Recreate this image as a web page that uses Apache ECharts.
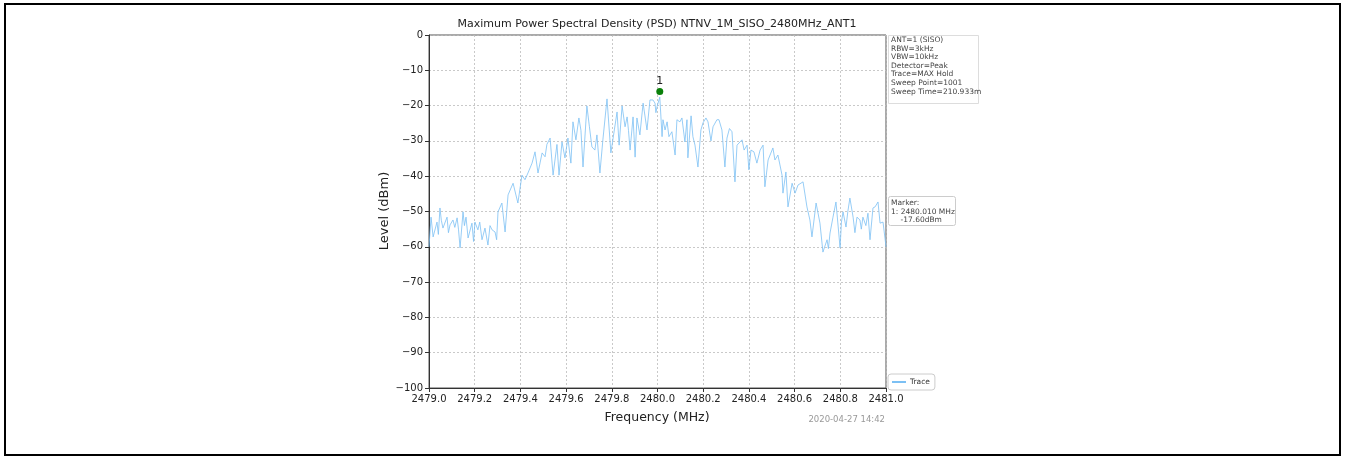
<!DOCTYPE html>
<html><head><meta charset="utf-8">
<script src="https://cdn.jsdelivr.net/npm/echarts@6/dist/echarts.min.js"></script>
<style>html,body{margin:0;padding:0;background:#fff}#c{width:1345px;height:458px}</style>
</head><body><div id="c"></div>
<script>
// Trace samples (MHz, dBm)
const freqMHz = [
2479.000,2479.009,2479.018,2479.035,2479.041,2479.048,2479.054,2479.061,2479.079,2479.085,
2479.092,2479.105,2479.113,2479.123,2479.129,2479.136,2479.149,2479.155,2479.162,2479.171,
2479.188,2479.195,2479.201,2479.214,2479.222,2479.232,2479.245,2479.258,2479.267,2479.276,
2479.289,2479.296,2479.302,2479.319,2479.333,2479.346,2479.368,2479.389,2479.407,2479.420,
2479.433,2479.451,2479.464,2479.477,2479.495,2479.508,2479.516,2479.530,2479.543,2479.560,
2479.569,2479.582,2479.595,2479.608,2479.621,2479.630,2479.643,2479.656,2479.665,2479.674,
2479.691,2479.702,2479.713,2479.726,2479.735,2479.748,2479.761,2479.779,2479.796,2479.823,
2479.832,2479.845,2479.858,2479.867,2479.873,2479.880,2479.893,2479.902,2479.910,2479.923,
2479.937,2479.954,2479.967,2479.980,2479.989,2479.993,2479.998,2480.010,2480.020,2480.024,
2480.033,2480.042,2480.050,2480.063,2480.077,2480.085,2480.098,2480.107,2480.120,2480.129,
2480.133,2480.147,2480.155,2480.164,2480.177,2480.190,2480.199,2480.212,2480.221,2480.234,
2480.243,2480.260,2480.269,2480.282,2480.295,2480.304,2480.315,2480.326,2480.339,2480.348,
2480.370,2480.379,2480.392,2480.400,2480.409,2480.422,2480.435,2480.449,2480.462,2480.470,
2480.484,2480.505,2480.514,2480.527,2480.545,2480.549,2480.562,2480.571,2480.589,2480.602,
2480.615,2480.637,2480.654,2480.667,2480.676,2480.694,2480.711,2480.724,2480.742,2480.748,
2480.755,2480.768,2480.781,2480.799,2480.805,2480.812,2480.825,2480.833,2480.842,2480.856,
2480.864,2480.873,2480.886,2480.892,2480.899,2480.912,2480.921,2480.930,2480.943,2480.952,
2480.965,2480.974,2480.987,2481.000
];
const levelDbm = [
-60.0,-51.6,-57.2,-53.0,-56.5,-49.0,-52.5,-54.7,-51.6,-56.0,
-53.8,-52.4,-54.5,-51.8,-55.0,-60.3,-50.1,-54.0,-51.6,-57.5,
-53.3,-58.5,-53.0,-55.2,-53.0,-58.0,-54.7,-59.5,-54.0,-55.2,
-55.8,-58.0,-50.1,-47.6,-55.8,-45.3,-42.0,-47.6,-39.7,-41.0,
-39.1,-36.3,-33.1,-39.1,-33.4,-34.5,-31.0,-29.2,-39.7,-31.0,
-39.7,-30.3,-34.8,-29.2,-36.3,-24.6,-29.7,-23.5,-27.0,-37.4,
-20.1,-26.0,-31.7,-32.6,-28.3,-39.1,-29.7,-18.1,-33.4,-21.8,
-31.2,-20.1,-26.0,-23.2,-27.0,-32.6,-23.2,-34.6,-23.5,-28.3,
-19.3,-26.9,-18.4,-18.4,-19.3,-22.0,-20.3,-17.6,-28.8,-24.0,
-26.9,-24.6,-28.8,-27.4,-34.0,-24.0,-24.6,-23.5,-30.3,-24.0,
-34.8,-22.9,-28.8,-31.2,-37.4,-26.9,-24.9,-23.5,-24.6,-30.0,
-26.0,-24.0,-24.0,-26.9,-37.4,-29.2,-26.5,-27.4,-41.6,-31.2,
-29.7,-32.6,-31.2,-38.2,-32.6,-33.1,-36.3,-32.6,-31.2,-43.0,
-35.4,-32.0,-35.4,-34.0,-39.7,-44.8,-38.8,-48.7,-42.0,-44.8,
-42.5,-41.6,-48.7,-52.4,-57.2,-47.6,-53.3,-61.5,-58.0,-60.5,
-56.1,-51.6,-47.3,-60.3,-53.0,-50.1,-54.4,-50.0,-46.2,-51.6,
-56.0,-51.6,-52.4,-55.0,-51.6,-54.0,-50.5,-58.0,-49.0,-48.7,
-47.3,-53.3,-53.0,-60.0
];
const markerFreq = [2480.010];
const markerLevel = [-16.0];
const markerLabels = ['1'];
const infoLines = ['ANT=1 (SISO)','RBW=3kHz','VBW=10kHz','Detector=Peak','Trace=MAX Hold','Sweep Point=1001','Sweep Time=210.933m'];
const markerLines = ['Marker:','1: 2480.010 MHz','    -17.60dBm'];
const titleText = 'Maximum Power Spectral Density (PSD) NTNV_1M_SISO_2480MHz_ANT1';
const xName = 'Frequency (MHz)';
const yName = 'Level (dBm)';
const stamp = '2020-04-27 14:42';

const FONT = 'DejaVu Sans';
const traceData = freqMHz.map((f,i)=>[f, levelDbm[i]]);
const markerData = markerFreq.map((f,i)=>[f, markerLevel[i]]);
const minus = v => String(v).replace('-', '\u2212');

const chart = echarts.init(document.getElementById('c'), null, {renderer:'canvas'});
const info = infoLines.map((t,i)=>({type:'text', x: 891, y: 36 + i*8.6,
  style:{text:t, font:'7.5px "'+FONT+'"', fill:'#444'}, z:20}));
const mk = markerLines.map((t,i)=>({type:'text', x: 891, y: 199 + i*8.6,
  style:{text:t, font:'7.5px "'+FONT+'"', fill:'#444'}, z:20}));

chart.setOption({
  animation:false,
  backgroundColor:'#fff',
  grid:{left:429, top:35, width:457, height:353, show:true, borderColor:'#555', borderWidth:1, backgroundColor:'transparent'},
  xAxis:{type:'value', min:2479, max:2481, interval:0.2,
    axisLine:{show:true, onZero:false, lineStyle:{color:'#333', width:1}},
    axisTick:{show:true, length:4, lineStyle:{color:'#333'}},
    axisLabel:{color:'#222', fontSize:10, fontFamily:FONT, margin:6, formatter:v=>v.toFixed(1)},
    splitLine:{show:true, lineStyle:{color:'#bbb', type:[2,2], width:0.8}}},
  yAxis:{type:'value', min:-100, max:0, interval:10,
    axisLine:{show:true, onZero:false, lineStyle:{color:'#333', width:1}},
    axisTick:{show:true, length:4, lineStyle:{color:'#333'}},
    axisLabel:{color:'#222', fontSize:10, fontFamily:FONT, margin:6, formatter:v=>minus(v)},
    splitLine:{show:true, lineStyle:{color:'#bbb', type:[2,2], width:0.8}}},
  legend:{show:true, left:888, top:374, orient:'vertical', data:['Trace'],
    borderColor:'#ccc', borderWidth:1, borderRadius:3, padding:[4,5,4,4], backgroundColor:'#fff',
    itemWidth:14, itemHeight:2, itemGap:2, icon:'rect',
    textStyle:{fontSize:7.5, fontFamily:FONT, color:'#333', padding:[0,0,0,-1]}},
  series:[
    {name:'Trace', type:'line', data:traceData, showSymbol:false, symbol:'none',
     lineStyle:{color:'#7cc0f4', width:0.8}, itemStyle:{color:'#7cc0f4'}, z:3},
    {name:'Marker', type:'scatter', data:markerData, symbol:'circle', symbolSize:7,
     itemStyle:{color:'#0a800a', opacity:1}, z:5,
     label:{show:true, position:'top', distance:1, formatter:p=>markerLabels[p.dataIndex], color:'#222', fontSize:11, fontFamily:FONT}}
  ],
  graphic:[
    {type:'rect', shape:{x:5, y:4, width:1335, height:451}, style:{fill:'none', stroke:'#000', lineWidth:2}, z:0},
    {type:'text', x:657, y:24, style:{text:titleText, font:'11px "'+FONT+'"', fill:'#222', align:'center', verticalAlign:'middle'}, z:20},
    {type:'text', x:657, y:418, style:{text:xName, font:'12.5px "'+FONT+'"', fill:'#222', align:'center', verticalAlign:'middle'}, z:20},
    {type:'text', x:385, y:211, rotation:Math.PI/2, style:{text:yName, font:'13px "'+FONT+'"', fill:'#222', align:'center', verticalAlign:'middle'}, z:20},
    {type:'text', x:885, y:420, style:{text:stamp, font:'8.5px "'+FONT+'"', fill:'#999', align:'right', verticalAlign:'middle'}, z:20},
    {type:'rect', shape:{x:888.5, y:35.5, width:90, height:68}, style:{fill:'#fff', stroke:'#ddd', lineWidth:1}, z:15},
    {type:'rect', shape:{x:888.5, y:196.5, width:67, height:29, r:2}, style:{fill:'#fff', stroke:'#ccc', lineWidth:1}, z:15}
  ].concat(info, mk)
});
</script></body></html>
